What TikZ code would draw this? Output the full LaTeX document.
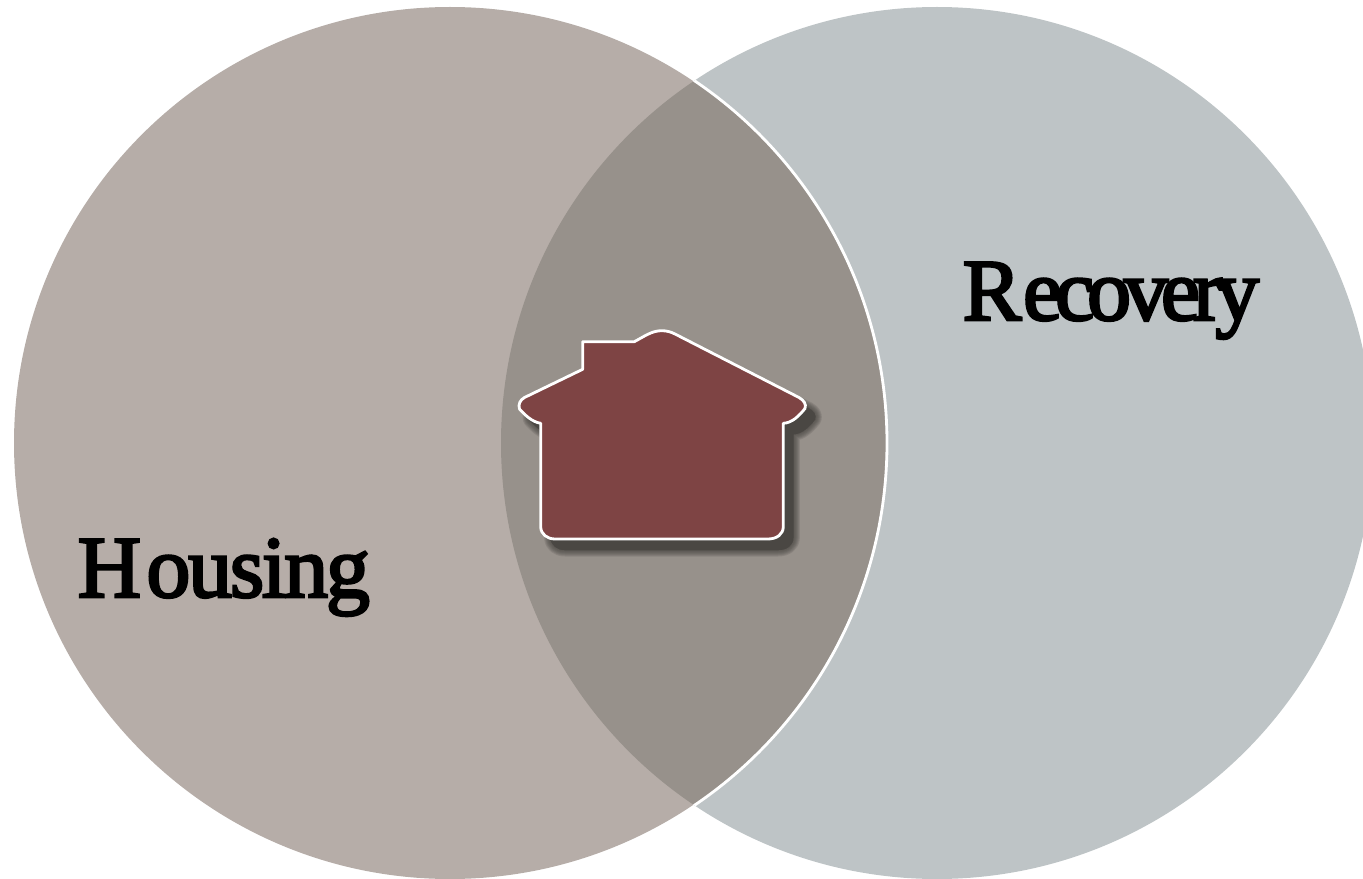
\documentclass[tikz,border=0pt]{standalone}
\usepackage{fontspec}
\newfontfamily\labelfont[FakeBold=3]{Liberation Serif}
\definecolor{housingfill}{HTML}{B6ADA8}
\definecolor{recoveryfill}{HTML}{BEC4C6}
\definecolor{overlapfill}{HTML}{97918B}
\definecolor{housefill}{HTML}{7E4444}
\definecolor{shadowfill}{HTML}{4A4743}
\newcommand{\houseoutline}{
  (582.7,341.7) -- (634.3,341.7)
  .. controls (645,336) and (652,330.7) .. (661.7,330.7)
  .. controls (667,330.7) and (671,332) .. (675,334)
  -- (799,397.5)
  .. controls (804,400.5) and (806.5,404) .. (805,408.5)
  .. controls (799,416) and (792,423) .. (783.3,423.3)
  -- (783.3,526.7)
  .. controls (783.3,534) and (777,539) .. (768,539)
  -- (555,539)
  .. controls (547,539) and (540.7,534) .. (540.7,526.7)
  -- (540.7,423.3)
  .. controls (532,422) and (525,415) .. (519.5,409)
  .. controls (518,404.5) and (520,400) .. (524.5,397.5)
  -- (582.7,369.3) -- cycle
}
\begin{document}
\begin{tikzpicture}[x=0.01cm, y=-0.01cm,
    biglabel/.style={anchor=base west, inner sep=0pt, font=\labelfont\fontsize{25}{30}\selectfont},
    houseshape/.style={fill=housefill, draw=white, line width=0.8pt, line join=round}]
  \useasboundingbox (0,0) rectangle (1363,879);
  \clip (0,0) rectangle (1363,879);

  % cerchi
  \fill[recoveryfill] (937,443) circle (436);
  \fill[housingfill] (450,443) circle (436);
  \begin{scope}
    \clip (937,443) circle (436);
    \fill[overlapfill] (450,443) circle (436);
    \draw[white, line width=0.8pt] (450,443) circle (437);
  \end{scope}

  % ombra
  \foreach \w in {13,11,...,1}
    \draw[shadowfill, fill=shadowfill, opacity=0.18, line width=\w*0.2845pt, line join=round, shift={(10,11)}] \houseoutline;
  \fill[shadowfill, shift={(10,11)}] \houseoutline;

  % casa
  \draw[houseshape] \houseoutline;

  % etichette
  \node[biglabel] (housing) at (77,597) {H\kern1.5pt\addfontfeature{LetterSpace=-2.5}ousing};
  \node[biglabel] (recovery) at (962,320) {R\kern0.5pt\addfontfeature{LetterSpace=-8}ecovery};
\end{tikzpicture}
\end{document}
